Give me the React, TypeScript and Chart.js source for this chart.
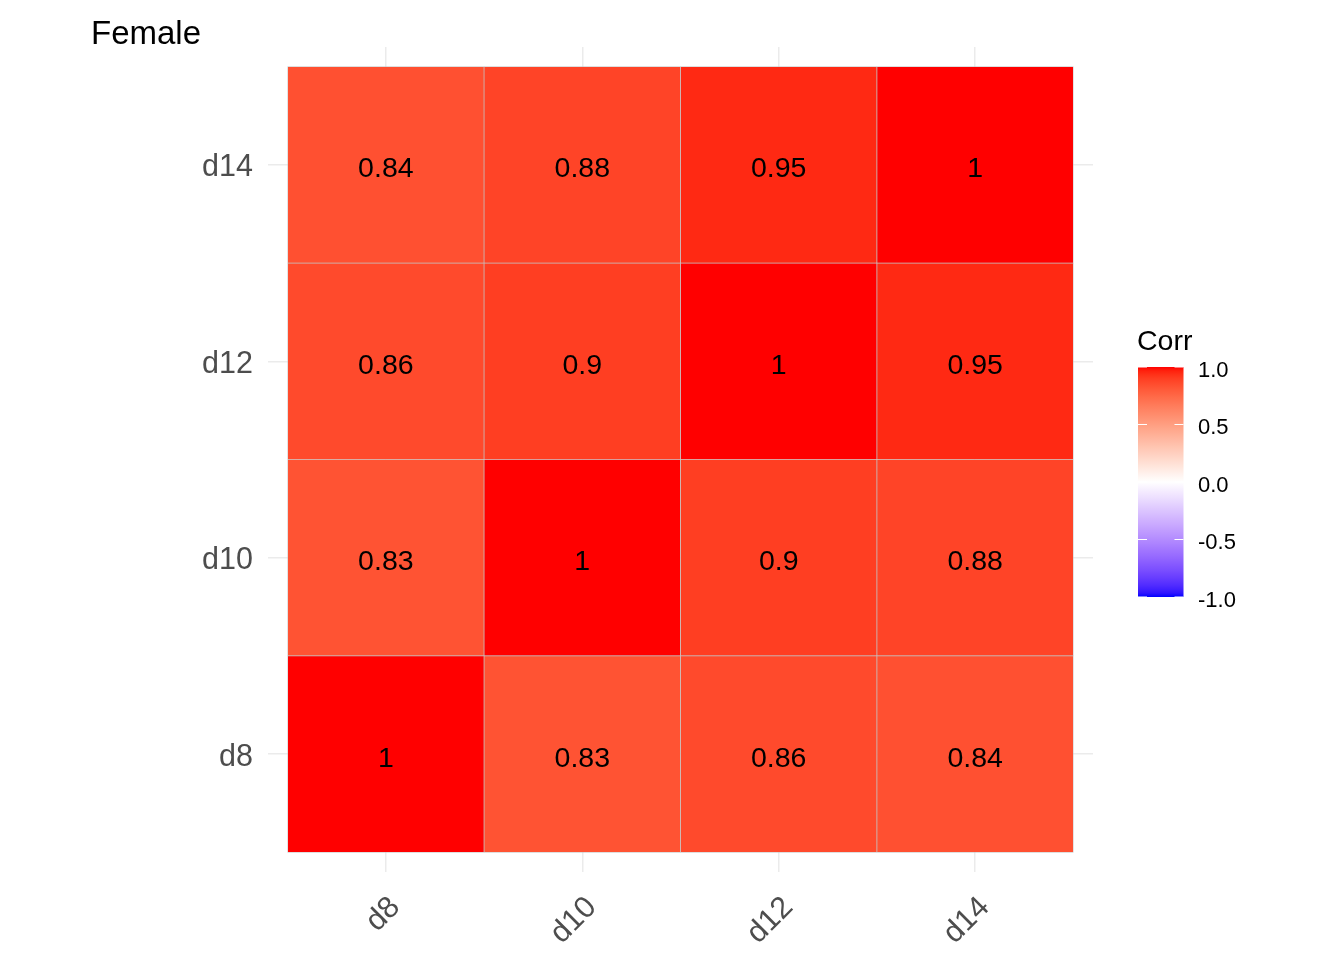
import React, { useEffect, useRef } from "react";
import { Chart, registerables } from "chart.js";

Chart.register(...registerables);

const categories = ["d8", "d10", "d12", "d14"];
// rows from bottom (d8) to top (d14); columns d8..d14
const rowD8 = [1, 0.83, 0.86, 0.84];
const rowD10 = [0.83, 1, 0.9, 0.88];
const rowD12 = [0.86, 0.9, 1, 0.95];
const rowD14 = [0.84, 0.88, 0.95, 1];
const rows = [rowD8, rowD10, rowD12, rowD14];
const legendTicks = [1.0, 0.5, 0.0, -0.5, -1.0];
const titleText = "Female";
const legendTitle = "Corr";

const FONT = '"Liberation Sans", Arial, sans-serif';

// ---- Lab colour interpolation (like scales::div_gradient_pal) ----
function toLin(c: number) {
  c /= 255;
  return c <= 0.04045 ? c / 12.92 : Math.pow((c + 0.055) / 1.055, 2.4);
}
function fromLin(c: number) {
  const v = c <= 0.0031308 ? 12.92 * c : 1.055 * Math.pow(c, 1 / 2.4) - 0.055;
  return Math.max(0, Math.min(255, Math.round(v * 255)));
}
const Xn = 0.95047, Yn = 1.0, Zn = 1.08883;
const d = 6 / 29;
function f(t: number) {
  return t > d * d * d ? Math.cbrt(t) : t / (3 * d * d) + 4 / 29;
}
function finv(t: number) {
  return t > d ? t * t * t : 3 * d * d * (t - 4 / 29);
}
function rgbToLab(rgb: number[]) {
  const r = toLin(rgb[0]), g = toLin(rgb[1]), b = toLin(rgb[2]);
  const X = 0.4124564 * r + 0.3575761 * g + 0.1804375 * b;
  const Y = 0.2126729 * r + 0.7151522 * g + 0.072175 * b;
  const Z = 0.0193339 * r + 0.119192 * g + 0.9503041 * b;
  const fx = f(X / Xn), fy = f(Y / Yn), fz = f(Z / Zn);
  return [116 * fy - 16, 500 * (fx - fy), 200 * (fy - fz)];
}
function labToRgb(lab: number[]) {
  const fy = (lab[0] + 16) / 116;
  const fx = fy + lab[1] / 500;
  const fz = fy - lab[2] / 200;
  const X = Xn * finv(fx), Y = Yn * finv(fy), Z = Zn * finv(fz);
  const r = 3.2404542 * X - 1.5371385 * Y - 0.4985314 * Z;
  const g = -0.969266 * X + 1.8760108 * Y + 0.041556 * Z;
  const b = 0.0556434 * X - 0.2040259 * Y + 1.0572252 * Z;
  return [fromLin(r), fromLin(g), fromLin(b)];
}
const LAB_LOW = rgbToLab([0, 0, 255]);
const LAB_MID = rgbToLab([255, 255, 255]);
const LAB_HIGH = rgbToLab([255, 0, 0]);
function corrColor(v: number) {
  const t = Math.min(1, Math.abs(v));
  const end = v >= 0 ? LAB_HIGH : LAB_LOW;
  const lab = [0, 1, 2].map((i) => LAB_MID[i] + (end[i] - LAB_MID[i]) * t);
  const c = labToRgb(lab);
  return `rgb(${c[0]},${c[1]},${c[2]})`;
}

const overlayPlugin = {
  id: "overlay",
  afterDatasetsDraw(chart: any) {
    const ctx = chart.ctx;
    ctx.save();
    ctx.fillStyle = "#000000";
    ctx.font = `28.5px ${FONT}`;
    ctx.textAlign = "center";
    ctx.textBaseline = "alphabetic";
    rows.forEach((row, r) => {
      const meta = chart.getDatasetMeta(r);
      row.forEach((v, c) => {
        const el = meta.data[c];
        const cy = (el.y + el.base) / 2;
        ctx.fillText(String(v), el.x, cy + 12.5);
      });
    });
    ctx.restore();
  },
  afterDraw(chart: any) {
    const ctx = chart.ctx;
    const xs = chart.scales.x;
    const ys = chart.scales.y;
    const area = chart.chartArea;
    ctx.save();
    // title
    ctx.fillStyle = "#000000";
    ctx.font = `33px ${FONT}`;
    ctx.textAlign = "left";
    ctx.textBaseline = "alphabetic";
    ctx.fillText(titleText, 91, 44);

    // y tick labels
    ctx.fillStyle = "#4D4D4D";
    ctx.font = `30.5px ${FONT}`;
    categories.forEach((lab, i) => {
      const y = ys.getPixelForValue(i + 1);
      ctx.textAlign = "right";
      ctx.textBaseline = "alphabetic";
      ctx.fillText(lab, area.left - 15, y + 11.5);
    });

    // x tick labels rotated 45°
    categories.forEach((lab, i) => {
      const x = xs.getPixelForValue(i + 1);
      ctx.save();
      ctx.translate(x + 15.5, area.bottom + 36.5);
      ctx.rotate(-Math.PI / 4);
      ctx.textAlign = "right";
      ctx.textBaseline = "alphabetic";
      ctx.fillText(lab, 0, 0);
      ctx.restore();
    });

    // legend colour bar
    const barX = 1138, barW = 45.5, barTop = 367, barBot = 597;
    const valToY = (v: number) => barTop + ((1 - v) / 2) * (barBot - barTop);
    const grad = ctx.createLinearGradient(0, barTop, 0, barBot);
    const N = 60;
    for (let i = 0; i <= N; i++) {
      const v = 1 - (2 * i) / N;
      grad.addColorStop(i / N, corrColor(v));
    }
    ctx.fillStyle = grad;
    ctx.fillRect(barX, barTop, barW, barBot - barTop);
    ctx.strokeStyle = "#FFFFFF";
    ctx.lineWidth = 1.2;
    legendTicks.forEach((v) => {
      const y = valToY(v);
      ctx.beginPath();
      ctx.moveTo(barX, y);
      ctx.lineTo(barX + 9, y);
      ctx.moveTo(barX + barW - 9, y);
      ctx.lineTo(barX + barW, y);
      ctx.stroke();
    });
    ctx.fillStyle = "#000000";
    ctx.font = `28.5px ${FONT}`;
    ctx.textAlign = "left";
    ctx.textBaseline = "alphabetic";
    ctx.fillText(legendTitle, 1137, 350);
    ctx.font = `22px ${FONT}`;
    ctx.textBaseline = "alphabetic";
    legendTicks.forEach((v) => {
      ctx.fillText(v.toFixed(1), 1198, valToY(v) + 9.5);
    });
    ctx.restore();
  },
};

export default function App() {
  const ref = useRef<HTMLCanvasElement | null>(null);
  useEffect(() => {
    document.body.style.margin = "0";
    if (!ref.current) return;
    const datasets = rows.map((row, r) => ({
      label: categories[r],
      data: row.map((_, c) => ({ x: c + 1, y: [r + 0.5, r + 1.5] })),
      backgroundColor: row.map((v) => corrColor(v)),
      borderColor: "#C4C4C4",
      borderWidth: 0.7,
      borderSkipped: false,
      grouped: false,
      barPercentage: 1,
      categoryPercentage: 1,
    }));
    const chart = new Chart(ref.current, {
      type: "bar",
      data: { datasets } as any,
      options: {
        animation: false,
        responsive: false,
        maintainAspectRatio: false,
        layout: { padding: { top: 47, right: 251, bottom: 0, left: 0 } },
        plugins: {
          legend: { display: false },
          tooltip: { enabled: false },
          title: { display: false },
        },
        scales: {
          x: {
            type: "linear",
            min: 0.4,
            max: 4.6,
            offset: false,
            afterBuildTicks: (s: any) => {
              s.ticks = [1, 2, 3, 4].map((v) => ({ value: v }));
            },
            afterFit: (s: any) => {
              s.height = 88;
            },
            grid: { color: "#EBEBEB", lineWidth: 1.5, drawTicks: false, offset: false },
            border: { display: false },
            ticks: { display: false },
          },
          y: {
            type: "linear",
            min: 0.4,
            max: 4.6,
            afterBuildTicks: (s: any) => {
              s.ticks = [1, 2, 3, 4].map((v) => ({ value: v }));
            },
            afterFit: (s: any) => {
              s.width = 268;
            },
            grid: { color: "#EBEBEB", lineWidth: 1.5, drawTicks: false },
            border: { display: false },
            ticks: { display: false },
          },
        },
      } as any,
      plugins: [overlayPlugin],
    });
    return () => chart.destroy();
  }, []);
  return (
    <div style={{ position: "absolute", left: 0, top: 0, width: 1344, height: 960, background: "#fff" }}>
      <canvas ref={ref} width={1344} height={960} style={{ width: 1344, height: 960, display: "block" }} />
    </div>
  );
}
